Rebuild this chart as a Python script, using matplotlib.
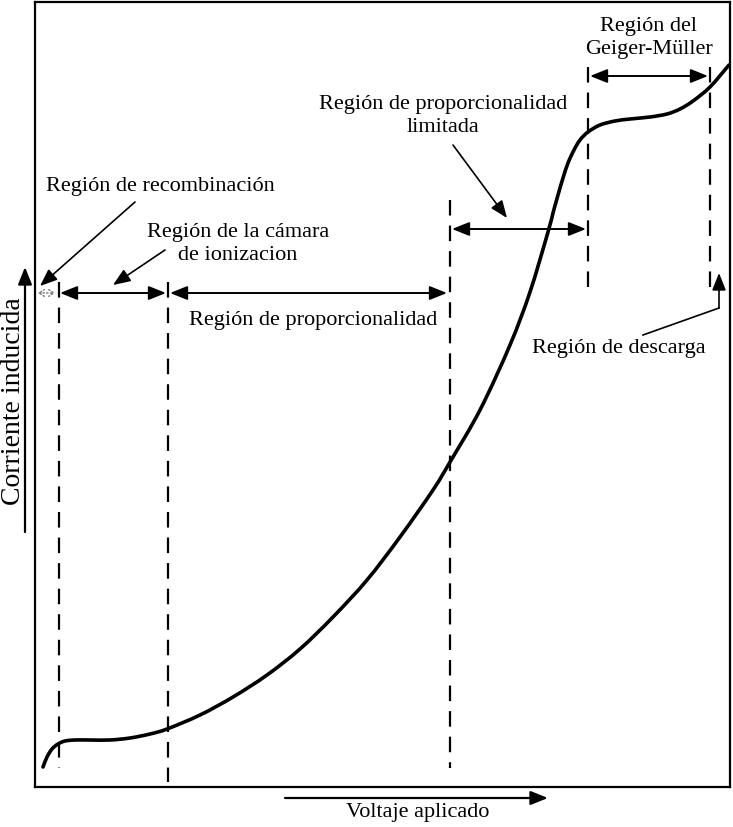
import numpy as np
import matplotlib
matplotlib.use("Agg")
import matplotlib.pyplot as plt
from matplotlib.path import Path
from matplotlib.patches import PathPatch

plt.rcParams['font.family'] = ['Liberation Serif', 'DejaVu Serif']

# ---- data (arbitrary units: voltage 0..695, current 0..785) ----
voltage = [8, 12, 17, 23, 30, 40, 55, 75, 95, 115, 132,
           165, 198, 232, 265, 298, 332, 365, 398, 415, 445, 475, 495, 513,
           518, 523, 528, 533, 539, 545, 553, 565, 580, 595, 615, 632, 645, 658, 675, 694]
current = [20, 30, 38, 43, 46, 47, 47, 47, 49, 53, 58,
           72, 90, 112, 138, 170, 207, 250, 297, 325, 377, 442, 495, 555,
           574, 592, 609, 624, 637, 647, 655, 662, 666, 668, 670, 673, 678, 686, 700, 722]

# region boundaries (voltage) and their vertical extents (current)
boundary_x = [24, 133, 415, 553, 675]
boundary_top = [505, 505, 587, 720, 720]
boundary_bottom = [19, 5, 19, 499, 499]

# dimension arrows: (start, end, level)
spans = [(25, 131, 494), (135, 412, 494), (417, 551, 558), (555, 673, 711)]

fig = plt.figure(figsize=(7.33, 8.27), dpi=100)
ax = fig.add_axes([35/733, (827-787)/827, 695/733, 785/827])
ax.set_xlim(0, 695)
ax.set_ylim(0, 785)
ax.set_xticks([])
ax.set_yticks([])
for s in ax.spines.values():
    s.set_linewidth(1.6)

# smooth curve via Catmull-Rom -> cubic Bezier
P = np.column_stack([voltage, current]).astype(float)
ext = np.vstack([P[0] - (P[1] - P[0]), P, P[-1] + (P[-1] - P[-2])])
verts = [tuple(P[0])]
codes = [Path.MOVETO]
for i in range(1, len(ext) - 2):
    p0, p1, p2, p3 = ext[i-1], ext[i], ext[i+1], ext[i+2]
    c1 = p1 + (p2 - p0) / 6.0
    c2 = p2 - (p3 - p1) / 6.0
    verts += [tuple(c1), tuple(c2), tuple(p2)]
    codes += [Path.CURVE4] * 3
ax.add_patch(PathPatch(Path(verts, codes), fill=False, lw=2.6, color='black',
                       capstyle='round', joinstyle='round'))

# dashed boundaries
for x, t, b in zip(boundary_x, boundary_top, boundary_bottom):
    ax.plot([x, x], [t, b], color='black', lw=1.6, linestyle=(0, (7.0, 4.5)))

# dimension arrows
astyle = '<|-|>,head_length=0.7,head_width=0.28'
for a, b, y in spans:
    ax.annotate('', xy=(b, y), xytext=(a, y),
                arrowprops=dict(arrowstyle=astyle, color='black', lw=1.4,
                                shrinkA=0, shrinkB=0, mutation_scale=15))
# tiny recombination span
ax.annotate('', xy=(20, 494), xytext=(3, 494),
            arrowprops=dict(arrowstyle='<->,head_length=0.3,head_width=0.2', color='0.45',
                            lw=1.0, linestyle=':', shrinkA=0, shrinkB=0, mutation_scale=12))

fs = 16
ls = 1.25
# pointer arrows
pointer = dict(arrowstyle='-|>,head_length=0.7,head_width=0.28', color='black', lw=1.2,
               shrinkA=0, shrinkB=0, mutation_scale=15)
ax.annotate('', xy=(5, 501), xytext=(100, 585), arrowprops=pointer)
ax.annotate('', xy=(78, 502), xytext=(130, 537), arrowprops=pointer)
ax.annotate('', xy=(472, 569), xytext=(418, 642), arrowprops=pointer)
ax.plot([608, 684], [452, 479], color='black', lw=1.2)
ax.annotate('', xy=(684, 514), xytext=(684, 479), arrowprops=pointer)

ax.text(125, 600, 'Región de recombinación', ha='center', va='center', fontsize=fs)
ax.text(203, 543, 'Región de la cámara\nde ionizacion', ha='center', va='center',
        fontsize=fs, linespacing=ls)
ax.text(278, 466, 'Región de proporcionalidad', ha='center', va='center', fontsize=fs)
ax.text(408, 671, 'Región de proporcionalidad\nlimitada', ha='center', va='center',
        fontsize=fs, linespacing=ls)
ax.text(614, 749, 'Región del\nGeiger-Müller', ha='center', va='center',
        fontsize=fs, linespacing=ls)
ax.text(584, 439, 'Región de descarga', ha='center', va='center', fontsize=fs)

# axis labels with arrows (outside the box)
ax.annotate('', xy=(513, -11), xytext=(250, -11), annotation_clip=False,
            arrowprops=dict(arrowstyle='-|>,head_length=0.7,head_width=0.28', color='black',
                            lw=1.6, shrinkA=0, shrinkB=0, mutation_scale=15))
ax.text(383, -25, 'Voltaje aplicado', ha='center', va='center', fontsize=fs, clip_on=False)
ax.annotate('', xy=(-10, 520), xytext=(-10, 255), annotation_clip=False,
            arrowprops=dict(arrowstyle='-|>,head_length=0.7,head_width=0.28', color='black',
                            lw=1.6, shrinkA=0, shrinkB=0, mutation_scale=15))
ax.text(-21, 386, 'Corriente inducida', ha='center', va='center', fontsize=20,
        rotation=90, clip_on=False)

fig.savefig('out.png', dpi=100)
